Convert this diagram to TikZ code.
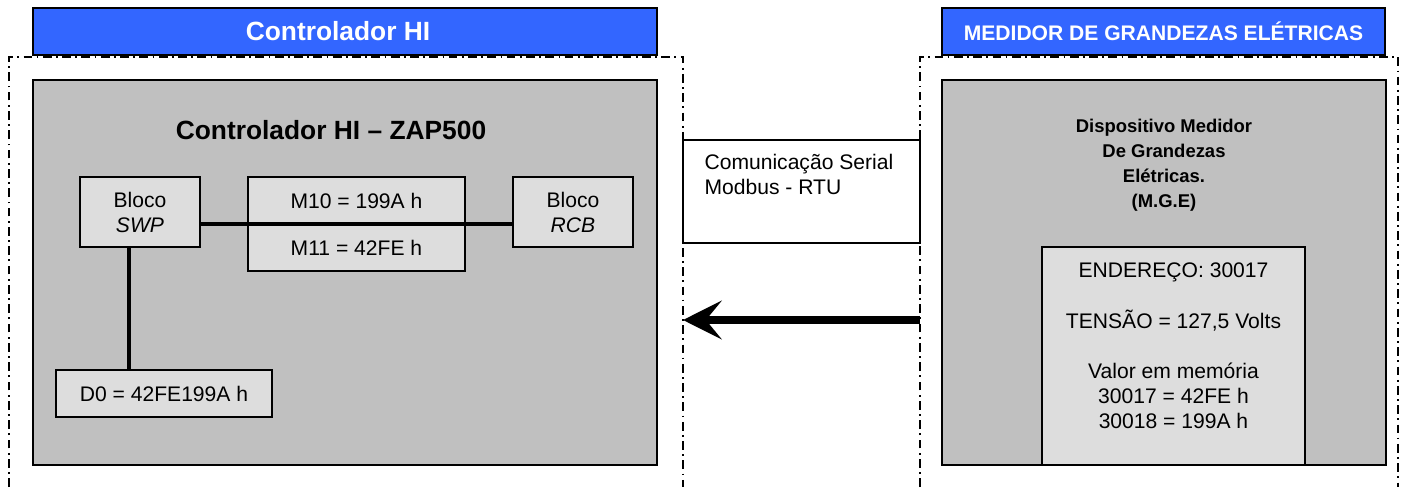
\documentclass[tikz,border=0pt]{standalone}
\usepackage{fontspec}
\setmainfont{Liberation Sans}
\usepackage{tikz}
\usetikzlibrary{arrows.meta,positioning}
\definecolor{hdrblue}{RGB}{51,102,255}
\definecolor{panelgray}{RGB}{192,192,192}
\definecolor{boxgray}{RGB}{221,221,221}
\tikzstyle{header} = [rectangle, draw=black, line width=1.4pt, fill=hdrblue, text=white, minimum height=0.94cm, inner sep=0pt, outer sep=0pt]
\tikzstyle{panel} = [rectangle, draw=black, line width=1pt, fill=panelgray, inner sep=0pt, outer sep=0pt]
\tikzstyle{blocknode} = [rectangle, draw=black, line width=0.9pt, fill=boxgray, align=center, inner sep=0pt, outer sep=0pt, font=\fontsize{12}{14.2}\selectfont]
\tikzstyle{dashframe} = [line width=0.8pt, dash pattern=on 5pt off 2.5pt on 1pt off 2.5pt]
\tikzstyle{link} = [line width=2.2pt]
\tikzstyle{arrow} = [line width=4pt, -{Stealth[length=22pt, width=22pt, inset=9pt]}]

\begin{document}
\begin{tikzpicture}[x=0.02cm, y=-0.02cm]
\useasboundingbox (0,0) rectangle (1409,487);

% Controlador HI
\node[header, minimum width=12.48cm, font=\bfseries\fontsize{15}{18}\selectfont] (hdrhi) at (345,31.5) {};
\node[text=white, font=\bfseries\fontsize{15}{18}\selectfont] (hdrhitxt) at (338,31.5) {Controlador HI};
\draw[dashframe] (9,487) -- (9,57) -- (683,57) -- (683,487);
\node[panel, minimum width=12.48cm, minimum height=7.7cm] (panelhi) at (345,272.5) {};
\node[font=\bfseries\fontsize{15}{18}\selectfont] (titlehi) at (331,130) {Controlador HI – ZAP500};

\node[blocknode, minimum width=2.4cm, minimum height=1.4cm] (swp) at (140,212) {Bloco\\\textit{SWP}};
\node[blocknode, minimum width=4.34cm, minimum height=0.94cm, right=0.96cm of swp.north east, anchor=north west] (m10) {M10 = 199A h};
\node[blocknode, minimum width=4.34cm, minimum height=0.94cm, below=0pt of m10] (m11) {M11 = 42FE h};
\node[blocknode, minimum width=2.4cm, minimum height=1.4cm, right=0.96cm of m10.north east, anchor=north west] (rcb) {Bloco\\\textit{RCB}};
\node[blocknode, minimum width=4.32cm, minimum height=0.94cm] (d0) at (164,393.5) {D0 = 42FE199A h};

\draw[link] (swp.east |- m10.south) -- (rcb.west |- m10.south);
\draw[link] ([xshift=-0.22cm]swp.south) -- ([xshift=-0.22cm]swp.south |- d0.north);

% comunicacao
\node[rectangle, draw=black, line width=0.9pt, fill=white, minimum width=4.74cm, minimum height=2.06cm, inner sep=0pt] (comm) at (801.5,191.5) {};
\node[anchor=north west, align=left, inner sep=0pt, font=\fontsize{12}{14.2}\selectfont] (commtxt) at ([xshift=0.44cm, yshift=-0.29cm]comm.north west) {Comunicação Serial\\Modbus - RTU};

\coordinate (arrS) at (920,320);
\coordinate (arrE) at (683,320);
\draw[arrow] (arrS) -- (arrE);

% Medidor
\node[header, minimum width=8.86cm, font=\bfseries\fontsize{12}{14}\selectfont] (hdrmge) at (1163.5,31.5) {MEDIDOR DE GRANDEZAS ELÉTRICAS};
\draw[dashframe] (920,487) -- (920,57) -- (1398,57) -- (1398,487);
\node[panel, minimum width=8.88cm, minimum height=7.7cm] (panelmge) at (1164,272.5) {};
\node[align=center, font=\bfseries\fontsize{10.5}{14.2}\selectfont] (titlemge) at (1164,165) {Dispositivo Medidor\\De Grandezas\\Elétricas.\\(M.G.E)};

\node[blocknode, minimum width=5.26cm, minimum height=4.36cm] (reg) at (1173.5,356) {};
\node[anchor=north, align=center, inner sep=0pt, font=\fontsize{12}{14.2}\selectfont] (regtxt) at ([yshift=-0.31cm]reg.north) {ENDEREÇO: 30017\\[15pt]TENSÃO = 127,5 Volts\\[14pt]Valor em memória\\30017 = 42FE h\\30018 = 199A h};
\end{tikzpicture}
\end{document}
